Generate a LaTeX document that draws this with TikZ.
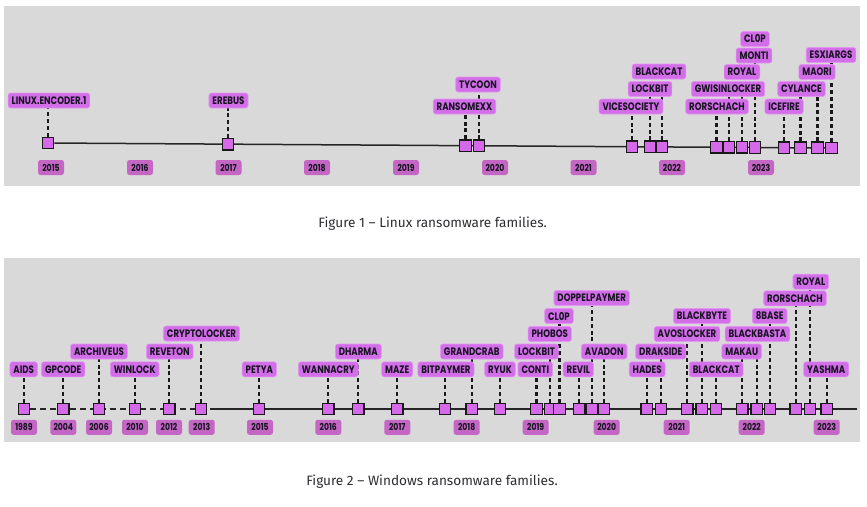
\documentclass[tikz,border=0pt]{standalone}
\usepackage{fontspec}
\newfontfamily\lblfont{Poppins}[FakeStretch=0.8]
\newfontfamily\capfont{Fira Sans}
\definecolor{panelgray}{RGB}{217,217,217}
\definecolor{lblfill}{RGB}{210,110,232}
\definecolor{lblborder}{RGB}{226,150,240}
\definecolor{yearfill}{RGB}{196,102,196}
\definecolor{sqfill}{RGB}{212,106,232}
\definecolor{lbltext}{RGB}{25,20,35}
\definecolor{captext}{RGB}{45,45,50}
\pgfdeclarelayer{panel}
\pgfdeclarelayer{links}
\pgfsetlayers{panel,links,main}
\tikzset{
  lbl/.style={fill=lblfill, draw=lblborder, line width=0.6pt, rounded corners=2.5pt,
    inner xsep=3.5pt, inner ysep=0pt, minimum height=15pt,
    font=\lblfont\bfseries\fontsize{10.8}{11}\selectfont, text=lbltext},
  yearbox/.style={fill=yearfill, rounded corners=2.5pt, inner xsep=3pt, inner ysep=0pt,
    minimum width=26pt, minimum height=15pt,
    font=\lblfont\bfseries\fontsize{9.6}{10}\selectfont, text=lbltext},
  sq/.style={fill=sqfill, draw=black!90, line width=1.4pt, minimum size=11.5pt, inner sep=0pt},
  conn/.style={draw=black!90, line width=2.2pt, dash pattern=on 4pt off 2.8pt},
  axis/.style={draw=black!85, line width=1.5pt},
  axisdash/.style={draw=black!85, line width=2pt, dash pattern=on 6pt off 4pt},
  caption/.style={font=\capfont\fontsize{13.6}{15}\selectfont, text=captext}
}
\begin{document}
\begin{tikzpicture}[x=1pt,y=-1pt]
\useasboundingbox (0,0) rectangle (867,506);
\begin{pgfonlayer}{panel}
  \fill[panelgray] (4,6) rectangle (860,186);
  \fill[panelgray] (4,258) rectangle (860,442);
\end{pgfonlayer}

% ---------- Figure 1 ----------
\foreach \i/\t/\sx/\lx/\ly in {
  1/LINUX.ENCODER.1/48/49/100.5,
  2/EREBUS/228/228.5/100.5,
  3/RANSOMEXX/465.5/464.5/106.5,
  4/TYCOON/479/478/84.5,
  5/VICESOCIETY/632/631/106.5,
  6/LOCKBIT/650/650/89,
  7/BLACKCAT/662/659/71.5,
  8/RORSCHACH/716.5/717/106.5,
  9/GWISINLOCKER/729/728/89,
  10/ROYAL/742/742/72,
  11/MONTI/755/754/55.5,
  12/CL0P/755/755/39,
  13/ICEFIRE/784/784/106.5,
  14/CYLANCE/800.5/801.5/89,
  15/MAORI/817.5/817/72,
  16/ESXIARGS/831.5/831/55}{
  \pgfmathsetmacro\sy{143+(\sx-48)*0.0064}
  \node[lbl] (la\i) at (\lx,\ly) {\t};
  \node[sq] (a\i) at (\sx,\sy) {};
  \begin{pgfonlayer}{links}
    \draw[conn] (a\i) -- (a\i |- la\i.center);
  \end{pgfonlayer}
}
\begin{pgfonlayer}{links}
  \draw[axis] (a1) -- (a16);
\end{pgfonlayer}
\foreach \i/\yr/\x in {1/2015/51,2/2016/140,3/2017/228.5,4/2018/317,5/2019/406,
  6/2020/495,7/2021/583.5,8/2022/672,9/2023/761}{
  \node[yearbox] (ya\i) at (\x,167.5) {\yr};
}
\node[caption] (cap1) at (432.7,224) {Figure 1 – Linux ransomware families.};

% ---------- Figure 2 ----------
\foreach \i/\t/\sx/\lx/\ly in {
  1/AIDS/24/23.7/369.3,
  2/GPCODE/63.3/63.2/369.3,
  3/ARCHIVEUS/99/99/351.5,
  4/WINLOCK/135/134.7/369.3,
  5/REVETON/169.3/169.8/351.5,
  6/CRYPTOLOCKER/201/201.5/333.5,
  7/PETYA/259/259.3/369.3,
  8/WANNACRY/328.3/328.3/369.3,
  9/DHARMA/358.3/358.3/351.5,
  10/MAZE/397.3/397.2/369.3,
  11/BITPAYMER/445/446/369.3,
  12/GRANDCRAB/471.7/471.8/351.5,
  13/RYUK/500/500/369.3,
  14/CONTI/536.5/535.3/369.3,
  15/LOCKBIT/550/536.5/351.5,
  16/PHOBOS/559.5/549.7/334,
  17/CL0P/559.5/559/316,
  18/DOPPELPAYMER/591.7/591.7/298,
  19/REVIL/579/578.3/369.3,
  20/AVADON/604/604.2/351.5,
  21/HADES/646.7/647.2/369.3,
  22/DRAKSIDE/661/660.8/351.5,
  23/AVOSLOCKER/687.3/687/334,
  24/BLACKBYTE/701.7/702/316,
  25/BLACKCAT/716/716.2/369.3,
  26/MAKAU/742.3/741.7/351.5,
  27/BLACKBASTA/756.7/757.5/334,
  28/8BASE/770/769.7/316,
  29/RORSCHACH/795.7/795/298.3,
  30/ROYAL/810/810.8/281.7,
  31/YASHMA/826.7/826.2/369.3}{
  \node[lbl] (lb\i) at (\lx,\ly) {\t};
  \node[sq] (b\i) at (\sx,409) {};
  \begin{pgfonlayer}{links}
    \draw[conn] (b\i) -- (b\i |- lb\i.center);
  \end{pgfonlayer}
}
\coordinate (t2m) at (216,409);
\coordinate (t2e) at (857,409);
\begin{pgfonlayer}{links}
  \draw[axisdash] (b1) -- (t2m);
  \draw[axis] (t2m) -- (t2e);
\end{pgfonlayer}
\foreach \i/\yr/\x in {1/1989/24,2/2004/63.3,3/2006/99,4/2010/135,5/2012/169,6/2013/201.7,
  7/2015/260,8/2016/328.3,9/2017/397.3,10/2018/466.7,11/2019/535.7,12/2020/606.7,
  13/2021/676.7,14/2022/751.7,15/2023/826.7}{
  \node[yearbox] (yb\i) at (\x,427.3) {\yr};
}
\node[caption] (cap2) at (432,481.7) {Figure 2 – Windows ransomware families.};
\end{tikzpicture}
\end{document}
